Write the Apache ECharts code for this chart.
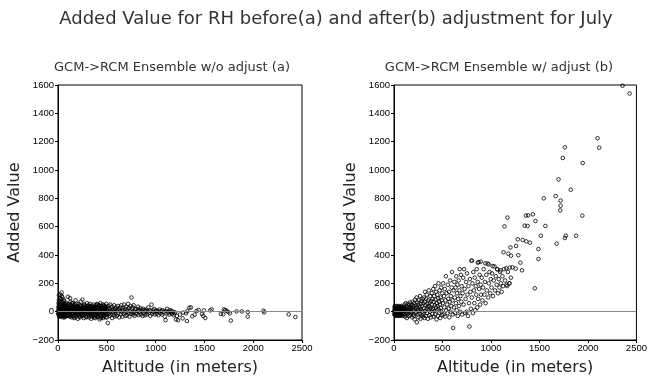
<!DOCTYPE html>
<html><head><meta charset="utf-8">
<script src="https://cdn.jsdelivr.net/npm/echarts@6/dist/echarts.min.js"></script>
<style>html,body{margin:0;padding:0;background:#fff}#c{width:650px;height:382px}</style>
</head><body><div id="c"></div>
<script>
const titleText = "Added Value for RH before(a) and after(b) adjustment for July";
const subtitleA = "GCM->RCM Ensemble w/o adjust (a)";
const subtitleB = "GCM->RCM Ensemble w/ adjust (b)";
const xName = "Altitude (in meters)";
const yName = "Added Value";
const xTicks = [0, 500, 1000, 1500, 2000, 2500];
const yTicks = [-200, 0, 200, 400, 600, 800, 1000, 1200, 1400, 1600];

// Panel (a): before adjustment [altitude, added value]
const pointsA = [
[2,10],[4,-20],[5,35],[6,60],[8,-5],[9,80],[10,115],[12,-30],[13,20],[15,45],[16,-15],[18,5],[20,95],[21,-25],[23,30],[25,120],[26,0],[28,-35],[30,55],[32,15],[33,-10],[35,70],[37,135],[38,-20],[40,25],[42,40],[44,-5],[45,100],[47,10],[49,-30],[50,65],[52,-15],[54,30],[56,5],[58,85],[60,-25],[62,45],[64,15],[66,-40],[68,20],[70,55],[72,-10],[74,35],[76,0],[78,-20],[80,25],[82,10],[85,50],[88,-30],[90,15],[92,-5],[95,40],[98,20],[100,-15],
[102,105],[105,30],[108,-25],[110,10],[112,55],[115,-5],[118,20],[120,-35],[123,40],[125,0],[128,70],[130,-20],[133,25],[135,10],[138,-40],[140,45],[143,5],[145,-15],[148,30],[150,60],[153,-10],[155,20],[158,-30],[160,35],[163,0],[165,15],[168,-45],[170,50],[173,10],[175,-20],[178,25],[180,80],[183,-5],[185,30],[188,-35],[190,15],[193,40],[195,-15],[198,5],[200,20],
[203,-50],[206,35],[209,10],[212,55],[215,-25],[218,20],[221,0],[224,45],[227,-40],[230,15],[233,70],[236,-10],[239,30],[242,5],[245,-30],[248,25],[251,85],[254,-15],[257,40],[260,0],[263,-45],[266,20],[269,10],[272,50],[275,-20],[278,30],[281,-5],[284,15],[287,-35],[290,40],[293,5],[296,60],[299,-15],
[302,25],[305,-30],[308,10],[311,45],[314,-10],[317,20],[320,-40],[323,35],[326,0],[329,55],[332,-20],[335,15],[338,30],[341,-50],[344,5],[347,40],[350,-15],[353,20],[356,-35],[359,10],[362,50],[365,-5],[368,25],[371,-25],[374,35],[377,0],[380,-45],[383,15],[386,45],[389,-10],[392,25],[395,-30],[398,5],
[402,55],[405,-20],[408,30],[411,-40],[414,10],[417,45],[420,-10],[423,20],[426,-55],[429,35],[432,0],[435,60],[438,-25],[441,15],[444,40],[447,-35],[450,5],[453,25],[456,-15],[459,50],[462,-45],[465,10],[468,30],[471,-5],[474,45],[477,-30],[480,20],[483,0],[486,-20],[489,35],[492,-10],[495,55],[498,15],
[502,-40],[506,25],[510,-80],[514,5],[518,40],[522,-15],[526,20],[530,-30],[534,50],[538,0],[542,-20],[546,30],[550,10],[554,-45],[558,35],[562,-5],[566,15],[570,-25],[574,45],[578,5],[582,-35],[586,20],[590,0],[594,-15],[598,30],
[603,-30],[608,15],[613,40],[618,-10],[623,20],[628,-40],[633,5],[638,30],[643,-20],[648,45],[653,0],[658,-35],[663,25],[668,10],[673,-15],[678,50],[683,-5],[688,20],[693,-30],[698,35],
[703,0],[708,-25],[713,15],[718,55],[723,-10],[728,25],[733,-35],[738,5],[743,40],[748,-15],[752,100],[756,20],[760,-5],[765,30],[770,-20],[775,45],[780,0],[785,-30],[790,15],[795,-10],
[802,20],[808,-15],[814,5],[820,35],[826,-25],[832,10],[838,-5],[844,25],[850,-20],[856,15],[862,0],[868,-30],[874,20],[880,-10],[886,10],[892,-25],[898,5],
[905,15],[912,-20],[918,0],[925,30],[932,-10],[938,10],[945,-30],[952,5],[958,50],[965,-15],[972,10],[978,-5],[985,20],[992,-20],[998,0],
[1005,10],[1012,-15],[1020,5],[1028,-25],[1035,0],[1042,15],[1050,-10],[1058,5],[1065,-20],[1072,10],[1080,-5],[1088,0],[1095,-35],[1102,-60],[1110,5],[1118,20],[1125,-10],[1132,0],[1140,-20],[1148,10],[1155,-5],[1162,5],[1170,-15],[1178,0],[1185,-25],[1192,-10],[1200,-5],[1210,-55],[1218,-30],[1230,-60],
[1250,-20],[1277,-47],[1284,-7],[1311,-12],[1321,-66],[1325,2],[1345,28],[1362,30],[1376,-33],[1400,-21],[1420,5],[1441,12],[1475,-16],[1488,-30],[1495,9],[1509,-45],[1560,9],[1574,16],[1669,-16],[1693,-19],[1700,16],[1712,10],[1727,7],[1744,-2],[1761,-12],[1771,-63],[1829,2],[1883,2],[1944,-2],[1944,-35],[2106,7],[2112,-5],[2364,-19],[2432,-38],
[3,-15],[7,25],[11,50],[14,-35],[17,70],[19,0],[22,15],[24,-25],[27,40],[29,90],[31,-5],[34,20],[36,-30],[39,110],[41,5],[43,60],[46,-20],[48,30],[51,-40],[53,15],[55,45],[57,-10],[59,25],[61,0],[63,75],[65,-30],[67,35],[69,10],[71,-15],[73,50],[75,20],[77,-35],[79,5],[81,40],[84,-10],[86,60],[89,0],[91,-25],[94,30],[97,10],
[104,-30],[109,45],[114,15],[119,-20],[124,95],[129,5],[134,-30],[139,30],[144,60],[149,-5],[154,40],[159,-40],[164,20],[169,0],[174,35],[179,-25],[184,10],[189,55],[194,-10],[199,35],
[207,-20],[213,25],[219,-35],[225,10],[231,40],[237,-25],[243,15],[249,-5],[255,35],[261,-30],[267,50],[273,5],[279,-15],[285,25],[291,-40],[297,20],
[303,-5],[309,35],[315,-25],[321,15],[327,-15],[333,40],[339,0],[345,-30],[351,30],[357,-10],[363,20],[369,-40],[375,10],[381,30],[387,-20],[393,50],[399,0],
[404,-35],[410,25],[416,-15],[422,45],[428,-25],[434,15],[440,-45],[446,30],[452,-5],[458,20],[464,-30],[470,40],[476,-10],[482,25],[488,-40],[494,10],[500,-20]
];

// Panel (b): after adjustment [altitude, added value]
const pointsB = [
[2,5],[3,-20],[5,30],[6,-10],[8,15],[9,40],[11,-25],[12,0],[14,20],[15,-15],[17,35],[18,5],[20,-30],[21,25],[23,-5],[24,10],[26,40],[27,-20],[29,15],[30,0],[32,-25],[33,30],[35,5],[36,-10],[38,20],[39,-30],[41,35],[42,0],[44,15],[45,-15],[47,25],[48,-5],[50,40],[51,10],[53,-25],[54,20],[56,0],[57,-15],[59,30],[60,5],[62,-30],[63,15],[65,35],[66,-10],[68,20],[69,0],[71,-20],[72,25],[74,10],[75,-5],[77,40],[78,-25],[80,15],[81,0],[83,30],[84,-15],[86,20],[87,5],[89,-30],[90,35],[92,10],[93,-10],[95,25],[96,0],[98,-20],[100,15],
[103,30],[106,-20],[109,50],[112,5],[115,-35],[118,25],[121,60],[124,-10],[127,15],[130,40],[133,-45],[136,0],[139,30],[142,-15],[145,55],[148,20],[151,-30],[154,10],[157,45],[160,-5],[163,25],[166,65],[169,-25],[172,15],[175,35],[178,-10],[181,50],[184,0],[187,-40],[190,30],[193,70],[196,10],[199,-20],
[202,40],[205,-30],[208,60],[211,10],[214,-55],[217,85],[220,25],[223,-10],[226,45],[229,0],[232,100],[235,-75],[238,30],[241,65],[244,-20],[247,15],[250,50],[253,-40],[256,80],[259,5],[262,35],[265,-15],[268,110],[271,20],[274,-50],[277,55],[280,10],[283,75],[286,-25],[289,40],[292,0],[295,90],[298,-35],
[302,60],[305,-20],[308,100],[311,25],[314,-45],[317,70],[320,140],[323,5],[326,45],[329,-30],[332,90],[335,20],[338,120],[341,-10],[344,55],[347,35],[350,-50],[353,80],[356,10],[359,150],[362,40],[365,-25],[368,65],[371,0],[374,110],[377,30],[380,-40],[383,75],[386,15],[389,130],[392,50],[395,-15],[398,90],
[402,20],[405,160],[408,-35],[411,70],[414,110],[417,5],[420,45],[423,180],[426,-20],[429,85],[432,30],[435,140],[438,-55],[441,60],[444,10],[447,120],[450,40],[453,-30],[456,95],[459,200],[462,15],[465,70],[468,-10],[471,150],[474,50],[477,-45],[480,100],[483,25],[486,170],[489,0],[492,80],[495,-25],[498,130],
[503,60],[507,200],[511,-20],[515,110],[519,30],[523,160],[527,-35],[531,80],[535,250],[539,10],[543,130],[547,50],[551,-10],[555,190],[559,90],[563,20],[567,140],[571,-40],[575,70],[579,220],[583,0],[587,110],[591,40],[595,170],[599,280],
[603,80],[607,-20],[610,-115],[614,150],[618,30],[622,210],[626,100],[630,-10],[634,170],[638,60],[642,250],[646,10],[650,130],[654,190],[658,-30],[662,90],[666,220],[670,40],[674,150],[678,300],[682,0],[686,110],[690,260],[694,70],[698,180],
[703,-20],[708,130],[713,240],[718,50],[723,300],[728,160],[733,-10],[738,90],[743,210],[748,0],[753,270],[758,120],[763,-30],[768,180],[773,60],[778,-105],[783,230],[788,140],[793,20],[798,360],
[803,100],[808,200],[813,-10],[818,280],[823,150],[828,60],[833,240],[838,10],[843,180],[848,120],[853,300],[858,30],[863,210],[868,90],[873,350],[878,160],[883,260],[888,50],[893,190],[898,120],
[905,240],[912,80],[918,170],[925,300],[932,120],[938,210],[945,60],[952,260],[958,150],[965,340],[972,100],[978,200],[985,280],[992,130],[998,230],
[1005,170],[1012,270],[1020,110],[1028,220],[1035,320],[1042,150],[1050,250],[1058,190],[1065,300],[1072,130],[1080,230],[1088,170],[1095,280],[1102,200],[1110,140],[1118,250],[1125,180],[1135,300],[1145,220],[1160,190],[1175,280],[1190,200],[1205,240],
[2357,1595],[2430,1540],[2099,1224],[2116,1158],[1762,1160],[1741,1085],[1946,1049],[1697,934],[1823,861],[1667,816],[1544,800],[1718,784],[1718,748],[1714,715],[1942,678],[1432,687],[1384,680],[1360,678],[1170,664],[1378,605],[1347,607],[1139,602],[1561,605],[1459,640],[1514,536],[1878,536],[1772,536],[1762,520],[1677,480],[1276,511],[1327,506],[1364,496],[1401,487],[1259,464],[1201,454],[1129,419],[1180,409],[1207,395],[1282,398],[1303,346],[1320,292],[1490,372],[1490,442],[1452,165],[1157,306],[1194,311],[1221,313],[1255,304],[1099,292],[1190,200],[1167,181],[895,353],[864,346],[803,360],[942,341],[976,334],[1017,322],[1065,299]
];

const chart = echarts.init(document.getElementById('c'));
const FONT = 'DejaVu Sans';
function xAxisCfg(idx){
  return {gridIndex: idx, type:'value', min:0, max:2500, interval:500,
    name: xName, nameLocation:'middle', nameGap:20,
    nameTextStyle:{fontFamily:FONT, fontSize:16, color:'#222'},
    axisLine:{show:true, onZero:false, lineStyle:{color:'#000', width:1}},
    axisTick:{show:true, length:3, lineStyle:{color:'#000'}},
    axisLabel:{fontFamily:'Liberation Sans', fontSize:9.5, color:'#000', margin:3,
      formatter: v => xTicks.includes(v) ? String(v) : ''},
    splitLine:{show:false}};
}
function yAxisCfg(idx){
  return {gridIndex: idx, type:'value', min:-200, max:1600, interval:200,
    name: yName, nameLocation:'middle', nameGap:35,
    nameTextStyle:{fontFamily:FONT, fontSize:16, color:'#222'},
    axisLine:{show:true, onZero:false, lineStyle:{color:'#000', width:1}},
    axisTick:{show:true, length:3, lineStyle:{color:'#000'}},
    axisLabel:{fontFamily:'Liberation Sans', fontSize:9.5, color:'#000', margin:4,
      formatter: v => yTicks.includes(v) ? String(v).replace('-', '\u2212') : ''},
    splitLine:{show:false}};
}
function scatter(idx, data){
  return {type:'scatter', xAxisIndex:idx, yAxisIndex:idx, data:data,
    symbol:'circle', symbolSize:3.6,
    itemStyle:{color:'rgba(0,0,0,0)', borderColor:'#000', borderWidth:1},
    emphasis:{disabled:true}, silent:true, animation:false,
    markLine:{silent:true, symbol:['none','none'], label:{show:false},
      lineStyle:{color:'#888', width:1, type:'solid'}, data:[{yAxis:0}], animation:false}};
}
chart.setOption({
  animation:false,
  backgroundColor:'#fff',
  title:[
    {text:titleText, left:331, top:5, textAlign:'center',
      textStyle:{fontFamily:FONT, fontSize:18, fontWeight:'normal', color:'#333'}},
    {text:subtitleA, left:167, top:56, textAlign:'center',
      textStyle:{fontFamily:FONT, fontSize:13, fontWeight:'normal', color:'#333'}},
    {text:subtitleB, left:494, top:56, textAlign:'center',
      textStyle:{fontFamily:FONT, fontSize:13, fontWeight:'normal', color:'#333'}}
  ],
  grid:[
    {left:58, right:348, top:85, bottom:42, show:true, borderColor:'#000', borderWidth:1, backgroundColor:'transparent'},
    {left:394, right:11, top:85, bottom:42, show:true, borderColor:'#000', borderWidth:1, backgroundColor:'transparent'}
  ],
  xAxis:[xAxisCfg(0), xAxisCfg(1)],
  yAxis:[yAxisCfg(0), yAxisCfg(1)],
  series:[scatter(0, pointsA), scatter(1, pointsB)]
});
</script></body></html>
